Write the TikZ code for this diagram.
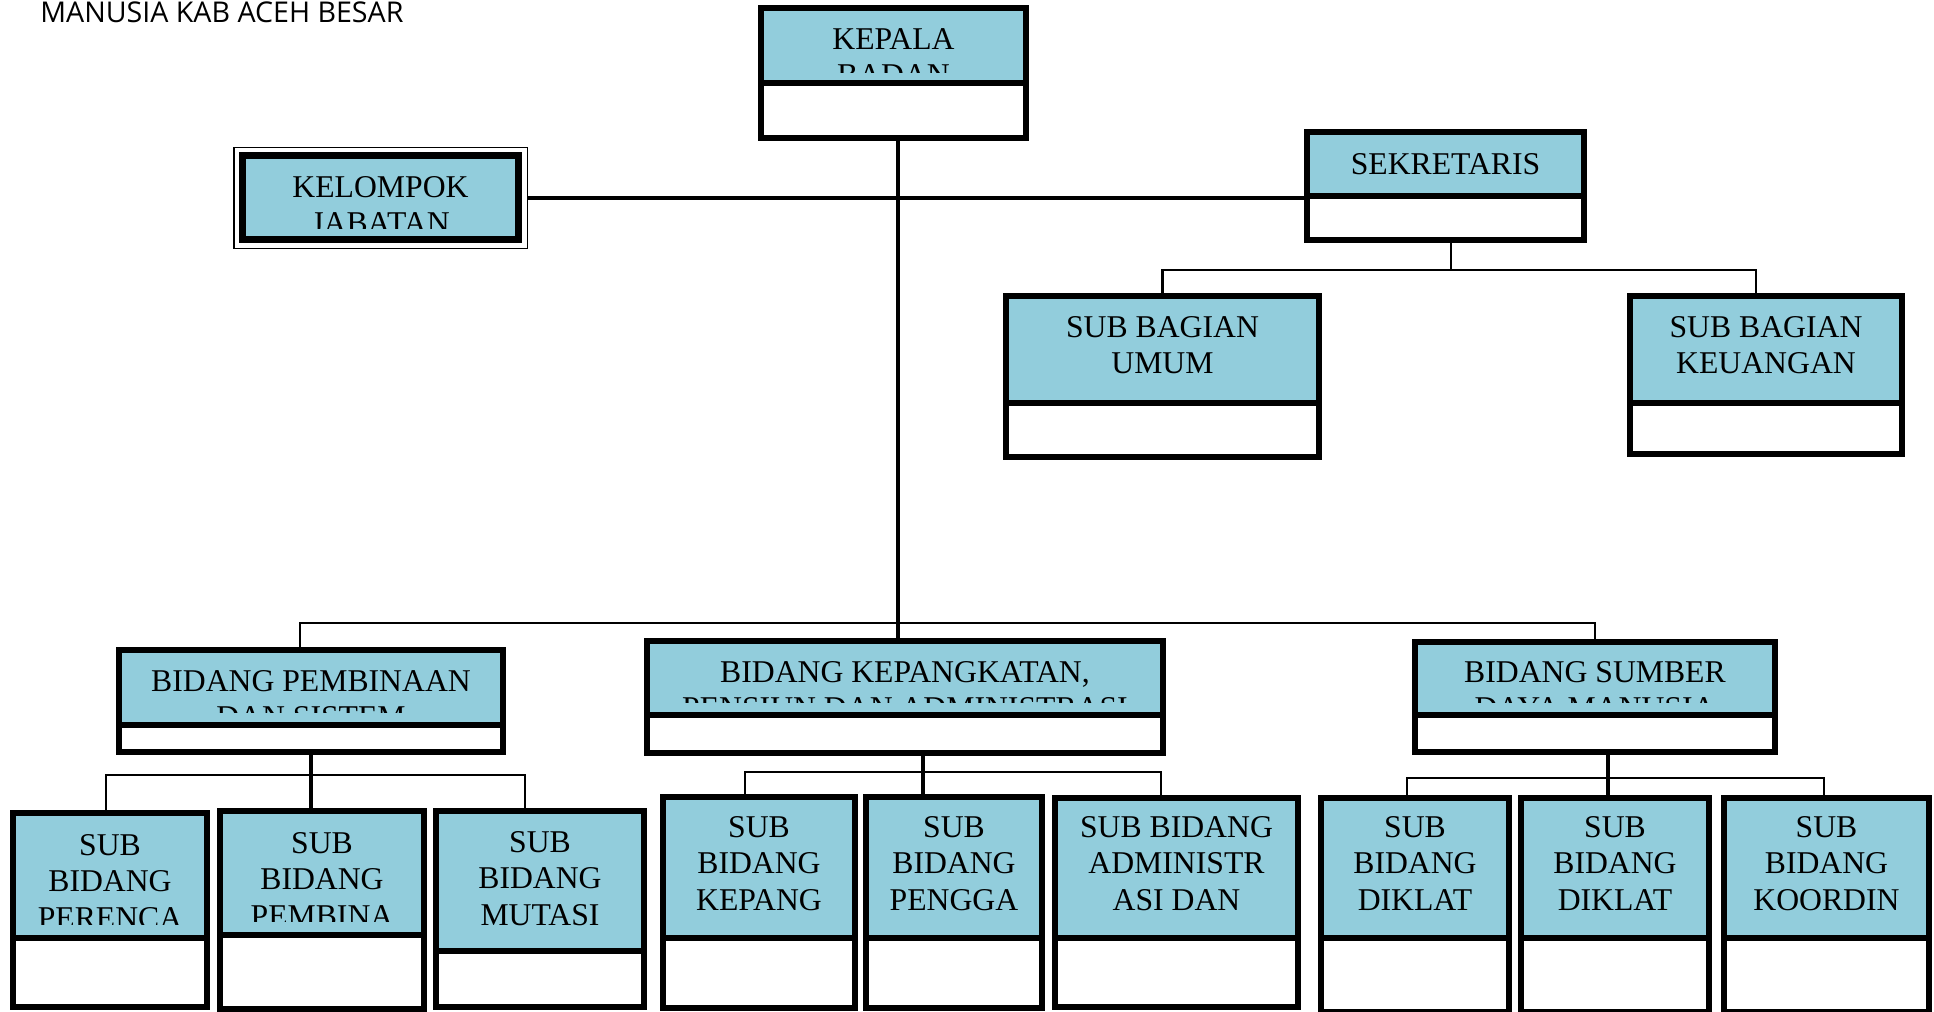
\documentclass[tikz,border=0pt]{standalone}
\usepackage{fontspec}
\setmainfont{Liberation Serif}
\newfontfamily\titlefont{Open Sans}
\definecolor{boxblue}{RGB}{146,205,220}
\tikzset{
  frame/.style={draw=black, line width=3pt, inner sep=0pt, outer sep=0pt},
  divline/.style={draw=black, line width=3pt},
  txt/.style={font=\fontsize{15.85pt}{18.25pt}\selectfont, align=center, inner sep=0pt, outer sep=0pt},
  conn/.style={draw=black, line width=2pt},
  busline/.style={draw=black, line width=1.3pt},
}
% #1 name, #2 x1, #3 y1, #4 x2, #5 y2, #6 divider y, #7 text clip y, #8 text, #9 last baseline y
\newcommand{\orgbox}[9]{%
  \fill[boxblue] (#2,#3) rectangle (#4,#6);
  \begin{scope}
    \clip (#2,#3) rectangle (#4,#7);
    \node[txt, anchor=base] (#1-t) at ({(#2+#4)/2},#9) {#8};
  \end{scope}
  \node[frame, minimum width={(#4-#2-6)*0.5pt}, minimum height={(#5-#3-6)*0.5pt}] (#1) at ({(#2+#4)/2},{(#3+#5)/2}) {};
  \draw[divline] (#2,#6) -- (#4,#6);
}
\begin{document}
\begin{tikzpicture}[x=0.5pt, y=-0.5pt]
\useasboundingbox (0,0) rectangle (1934,1012);
\fill[white] (0,0) rectangle (1934,1012);

% title
\node[font=\titlefont\fontsize{14.3pt}{17pt}\selectfont, anchor=base west, inner sep=0pt] (title) at (40,23) {MANUSIA KAB ACEH BESAR};

% top level
\orgbox{kepala}{758}{5}{1029}{141}{82.5}{72}{KEPALA\\BADAN}{85.5}
\orgbox{sek}{1304}{129}{1587}{243}{195.5}{192}{SEKRETARIS}{174}
\orgbox{umum}{1003}{293}{1322}{460}{402.5}{400}{SUB BAGIAN\\UMUM}{373.5}
\orgbox{keu}{1627}{293}{1905}{457}{402.5}{400}{SUB BAGIAN\\KEUANGAN}{373.5}

% kelompok jabatan (double frame)
\fill[boxblue] (239,152) rectangle (522,243);
\begin{scope}
  \clip (239,152) rectangle (522,228);
  \node[txt, anchor=base] (kel-t) at (380.5,233.5) {KELOMPOK\\JABATAN};
\end{scope}
\node[frame, line width=3.5pt, minimum width={(522-239-7)*0.5pt}, minimum height={(243-152-7)*0.5pt}] (kel) at (380.5,197.5) {};
\draw[line width=0.8pt] ([shift={(-4.4pt,4pt)}]kel.north west) rectangle ([shift={(4.4pt,-4.4pt)}]kel.south east);

% second level
\orgbox{pemb}{116}{647}{506}{755}{724.5}{712}{BIDANG PEMBINAAN\\DAN SISTEM}{727.5}
\orgbox{kpk}{644}{638}{1166}{756}{714.5}{702}{BIDANG KEPANGKATAN,\\PENSIUN DAN ADMINISTRASI}{718.5}
\orgbox{sdm}{1412}{639}{1778}{755}{714.5}{702}{BIDANG SUMBER\\DAYA MANUSIA}{718.5}

% third level
\orgbox{perenca}{10}{810}{210}{1010}{937.5}{924}{SUB\\BIDANG\\PERENCA}{928}
\orgbox{pembina}{217}{808}{427}{1012}{934.5}{921}{SUB\\BIDANG\\PEMBINA}{926}
\orgbox{mutasi}{433}{808}{647}{1010}{950.5}{948}{SUB\\BIDANG\\MUTASI}{925}
\orgbox{kepang}{660}{794}{858}{1011}{937.5}{935}{SUB\\BIDANG\\KEPANG}{910}
\orgbox{pengga}{863}{794}{1045}{1011}{937.5}{935}{SUB\\BIDANG\\PENGGA}{910}
\orgbox{adm}{1052}{795}{1301}{1010}{937.5}{935}{SUB BIDANG\\ADMINISTR\\ASI DAN}{910}
\orgbox{diklatA}{1318}{795}{1512}{1015}{937.5}{935}{SUB\\BIDANG\\DIKLAT}{910}
\orgbox{diklatB}{1518}{795}{1712}{1015}{937.5}{935}{SUB\\BIDANG\\DIKLAT}{910}
\orgbox{koordin}{1721}{795}{1932}{1015}{937.5}{935}{SUB\\BIDANG\\KOORDIN}{910}

% connectors
\coordinate (bus) at (898,623);
\coordinate (sbus) at (1451,270);
\coordinate (pbus) at (311,775);
\coordinate (kbus) at (923,772);
\coordinate (dbus) at (1608,778);

\draw[conn] ([xshift=2.25pt]kepala.south) -- ([xshift=-3.5pt]kpk.north);
\draw[conn] ([xshift=4.6pt]kel.east) -- (sek.west |- kel.east);
\draw[busline] ([xshift=-5.5pt]pemb.north) |- (bus) -| (sdm.north);

\draw[busline] (sek.south -| sbus) -- (sbus);
\draw[busline] (umum.north) |- (sbus) -| ([xshift=-5pt]keu.north);

\draw[conn] (pemb.south) -- (pemb.south |- pembina.north);
\draw[busline] ([xshift=-2pt]perenca.north) |- (pbus) -| ([xshift=-7.5pt]mutasi.north);

\draw[conn] (kpk.south -| kbus) -- (kbus |- pengga.north);
\draw[busline] ([xshift=-7pt]kepang.north) |- (kbus) -| ([xshift=-7.75pt]adm.north);

\draw[conn] (sdm.south -| dbus) -- (dbus |- diklatB.north);
\draw[busline] ([xshift=-4pt]diklatA.north) |- (dbus) -| ([xshift=-1.25pt]koordin.north);
\end{tikzpicture}
\end{document}
